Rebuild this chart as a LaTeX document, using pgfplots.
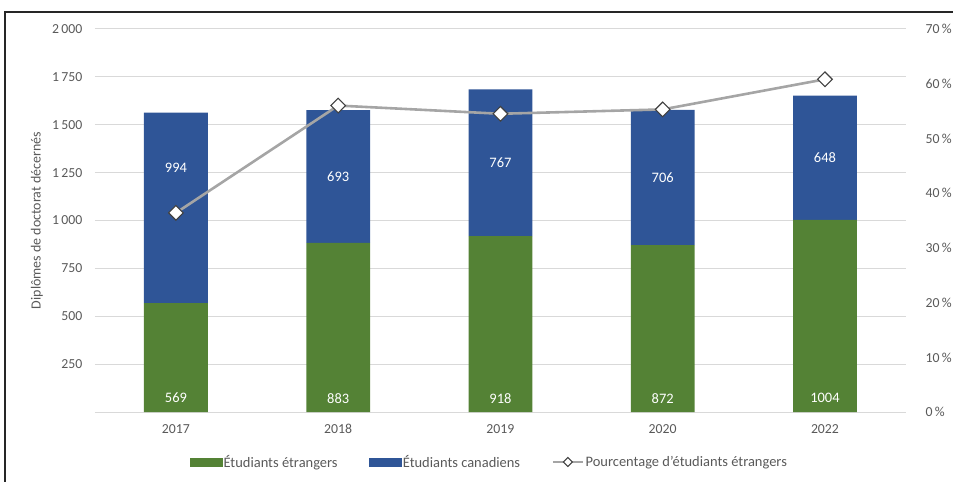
\documentclass[border=0pt]{standalone}
\usepackage{fontspec}
\setmainfont{Carlito}
\usepackage{pgfplots}
\pgfplotsset{compat=1.18}
\definecolor{cgreen}{HTML}{548235}
\definecolor{cblue}{HTML}{2F5597}
\definecolor{cline}{HTML}{A5A5A5}
\definecolor{ctext}{HTML}{595959}
\definecolor{cgrid}{HTML}{D9D9D9}
\tikzset{vlab/.style={text=white, font=\fontsize{14.5}{16}\selectfont}}
\pgfplotsset{linelegend/.style={legend image code/.code={\draw[mark repeat=2,mark phase=2,##1, mark size=3.2pt] plot coordinates {(0pt,0pt) (15pt,0pt) (30pt,0pt)};}}}
\begin{document}
\begin{tikzpicture}[x=1pt,y=1pt]
\path (0,0) rectangle (955,483);
\draw[line width=1.5pt, color=black!85] (5,0) -- (5,471) -- (955,471);
\begin{axis}[
  at={(95pt,70pt)}, anchor=south west,
  width=813pt, height=384pt, scale only axis,
  xmin=-0.5, xmax=4.5, ymin=0, ymax=2000,
  ybar stacked, bar width=64pt,
  xtick={0,...,4}, xticklabels={2017,2018,2019,2020,2022},
  ytick={250,500,...,2000},
  yticklabels={250,500,750,1\,000,1\,250,1\,500,1\,750,2\,000},
  ymajorgrids, grid style={cgrid, line width=1pt},
  axis x line*=bottom, axis y line*=left,
  x axis line style={cgrid, line width=1pt, -},
  y axis line style={draw=none},
  major tick length=0pt,
  ticklabel style={font=\fontsize{13.8}{16}\selectfont, text=ctext},
  yticklabel style={anchor=east, xshift=-9pt},
  xticklabel style={anchor=north, text height=10pt, text depth=0pt, yshift=-8pt},
  every axis y label/.style={at={(axis description cs:0,0.5)}, xshift=-58pt, rotate=90, anchor=center, font=\fontsize{14}{16}\selectfont, text=ctext},
  ylabel={Diplômes de doctorat décernés},
  clip=false,
]
\addplot[fill=cgreen, draw=none] coordinates {(0,569) (1,883) (2,918) (3,872) (4,1004)};
\addplot[fill=cblue, draw=none] coordinates {(0,994) (1,693) (2,767) (3,706) (4,648)};
\end{axis}
\begin{axis}[
  at={(95pt,70pt)}, anchor=south west,
  width=813pt, height=384pt, scale only axis,
  xmin=-0.5, xmax=4.5, ymin=0, ymax=70,
  axis x line=none, axis y line*=right,
  y axis line style={draw=none},
  major tick length=0pt,
  ytick={0,10,...,70},
  yticklabels={0\,\%,10\,\%,20\,\%,30\,\%,40\,\%,50\,\%,60\,\%,70\,\%},
  ticklabel style={font=\fontsize{13.8}{16}\selectfont, text=ctext},
  yticklabel style={anchor=west, xshift=16pt},
  legend style={at={(axis description cs:0.486,-0.13)}, anchor=center, legend columns=3, draw=none, fill=none, font=\fontsize{14.5}{16}\selectfont, text=ctext, /tikz/every even column/.append style={column sep=30pt}, /tikz/every odd column/.append style={column sep=0pt}, legend cell align=left, /tikz/every node/.append style={inner xsep=1.5pt}},
  clip=false,
]
% value labels (placed on the percent axis: value x 70/2000)
\node[vlab] at (axis cs:0,2.555) {569};
\node[vlab] at (axis cs:1,2.555) {883};
\node[vlab] at (axis cs:2,2.555) {918};
\node[vlab] at (axis cs:3,2.555) {872};
\node[vlab] at (axis cs:4,2.555) {1004};
\node[vlab] at (axis cs:0,44.66) {994};
\node[vlab] at (axis cs:1,43.02) {693};
\node[vlab] at (axis cs:2,45.54) {767};
\node[vlab] at (axis cs:3,42.88) {706};
\node[vlab] at (axis cs:4,46.48) {648};
\addlegendimage{legend image code/.code={\fill[cgreen] (0pt,-4pt) rectangle (32pt,4pt);}}
\addlegendentry{Étudiants étrangers}
\addlegendimage{legend image code/.code={\fill[cblue] (0pt,-4pt) rectangle (32pt,4pt);}}
\addlegendentry{Étudiants canadiens}
\addplot[color=cline, line width=2.6pt, mark=square*, mark size=5.2pt, mark options={fill=white, draw=black!75, line width=1.1pt, rotate=45}, linelegend]
  coordinates {(0,36.4) (1,56.0) (2,54.5) (3,55.3) (4,60.8)};
\addlegendentry{Pourcentage d'étudiants étrangers}
\end{axis}
\end{tikzpicture}
\end{document}
